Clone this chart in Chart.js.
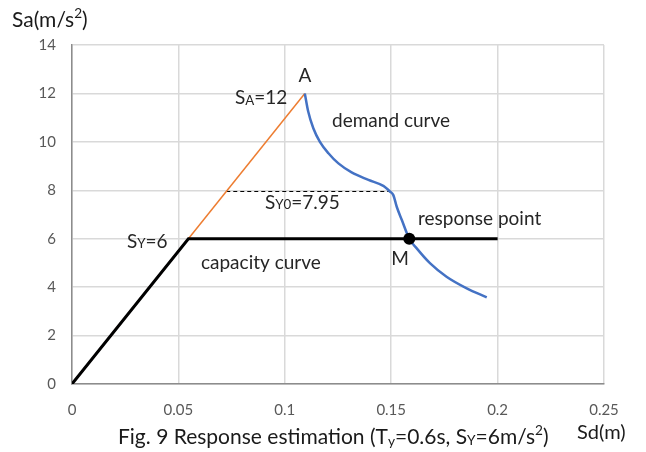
<!DOCTYPE html>
<html>
<head>
<meta charset="utf-8">
<script src="https://cdn.jsdelivr.net/npm/chart.js@4.4.1/dist/chart.umd.min.js"></script>
<style>
    html, body { margin: 0; padding: 0; background: #fff; }
    #wrap { width: 646px; height: 452px; position: relative; }
</style>
</head>
<body>
<div id="wrap"><canvas id="spectrumChart"></canvas></div>
<script>
// Axis ticks
const xTicks = [0, 0.05, 0.1, 0.15, 0.2, 0.25];
const yTicks = [0, 2, 4, 6, 8, 10, 12, 14];

// Capacity curve (bilinear)
const capacitySd = [0, 0.0547, 0.2];
const capacitySa = [0, 6, 6];

// Elastic line up to point A
const elasticSd = [0, 0.1094];
const elasticSa = [0, 12];

// Demand curve
const demandSd = [0.1094, 0.111, 0.1134, 0.1165, 0.1205, 0.1252, 0.1314, 0.1393, 0.1463, 0.1494, 0.151, 0.1526, 0.155, 0.1585, 0.162, 0.1682, 0.176, 0.1855, 0.1949];
const demandSa = [12, 11.25, 10.56, 10.0, 9.53, 9.11, 8.74, 8.43, 8.18, 7.95, 7.8, 7.32, 6.77, 6.0, 5.6, 4.99, 4.43, 3.95, 3.58];

// Yield level Sy0 (dashed)
const yieldSd = [0.0725, 0.1494];
const yieldSa = [7.95, 7.95];

// Response point M
const responseSd = [0.1585];
const responseSa = [6];

const toPoints = (xs, ys) => xs.map((x, i) => ({ x: x, y: ys[i] }));

const FONT = 'Lato, "Open Sans", sans-serif';

// text pieces: [text, sizeScale, baselineShift]
function drawRich(ctx, parts, x, y, size, color, align) {
    ctx.save();
    ctx.fillStyle = color;
    ctx.textBaseline = 'middle';
    ctx.textAlign = 'left';
    let total = 0;
    parts.forEach(p => {
        ctx.font = `${size * p[1]}px ${FONT}`;
        total += ctx.measureText(p[0]).width;
    });
    let cx = align === 'center' ? x - total / 2 : x;
    parts.forEach(p => {
        ctx.font = `${size * p[1]}px ${FONT}`;
        ctx.fillText(p[0], cx, y + p[2] * size);
        cx += ctx.measureText(p[0]).width;
    });
    ctx.restore();
}

// Labels placed in data coordinates
const notes = [
    { x: 0.1095, y: 12.72, parts: [['A', 1, 0]], align: 'center' },
    { x: 0.0766, y: 11.81, parts: [['S', 1, 0], ['A', 0.7, 0.12], ['=12', 1, 0]] },
    { x: 0.1222, y: 10.86, parts: [['demand curve', 1, 0]] },
    { x: 0.0907, y: 7.48, parts: [['S', 1, 0], ['Y0', 0.7, 0.12], ['=7.95', 1, 0]] },
    { x: 0.1626, y: 6.82, parts: [['response point', 1, 0]] },
    { x: 0.0258, y: 5.87, parts: [['S', 1, 0], ['Y', 0.7, 0.12], ['=6', 1, 0]] },
    { x: 0.0606, y: 5.0, parts: [['capacity curve', 1, 0]] },
    { x: 0.15, y: 5.16, parts: [['M', 1, 0]] }
];

const labelPlugin = {
    id: 'labels',
    afterDraw(chart) {
        const ctx = chart.ctx;
        const xs = chart.scales.x, ys = chart.scales.y;
        notes.forEach(n => {
            drawRich(ctx, n.parts, xs.getPixelForValue(n.x), ys.getPixelForValue(n.y), 19, '#262626', n.align);
        });
        // axis titles and caption
        drawRich(ctx, [['Sa(m/s', 1, 0], ['2', 0.65, -0.3], [')', 1, 0]], 12, 20, 21, '#1a1a1a');
        drawRich(ctx, [['Sd(m)', 1, 0]], 577, 433, 20, '#1a1a1a');
        drawRich(ctx, [['Fig. 9 Response estimation (T', 1, 0], ['y', 0.65, 0.2], ['=0.6s, S', 1, 0], ['Y', 0.65, 0.15], ['=6m/s', 1, 0], ['2', 0.65, -0.3], [')', 1, 0]], 118, 437, 21, '#1a1a1a');
    }
};

const ctx = document.getElementById('spectrumChart');
new Chart(ctx, {
    type: 'scatter',
    data: {
        datasets: [
            {
                label: 'M',
                data: toPoints(responseSd, responseSa),
                pointRadius: 6,
                pointBackgroundColor: '#000',
                pointBorderWidth: 0,
                showLine: false,
                order: 0
            },
            {
                label: 'capacity',
                data: toPoints(capacitySd, capacitySa),
                showLine: true,
                borderColor: '#000',
                borderWidth: 3,
                pointRadius: 0,
                order: 1
            },
            {
                label: 'demand',
                data: toPoints(demandSd, demandSa),
                showLine: true,
                borderColor: '#4472C4',
                borderWidth: 2.5,
                pointRadius: 0,
                cubicInterpolationMode: 'monotone',
                order: 2
            },
            {
                label: 'elastic',
                data: toPoints(elasticSd, elasticSa),
                showLine: true,
                borderColor: '#ED7D31',
                borderWidth: 1.5,
                pointRadius: 0,
                order: 3
            },
            {
                label: 'Sy0',
                data: toPoints(yieldSd, yieldSa),
                showLine: true,
                borderColor: '#000',
                borderWidth: 1,
                borderDash: [4, 3],
                pointRadius: 0,
                order: 4
            }
        ]
    },
    options: {
        responsive: true,
        maintainAspectRatio: false,
        animation: false,
        layout: {
            padding: { top: 45, right: 42, left: 0, bottom: 0 }
        },
        plugins: {
            legend: { display: false },
            tooltip: { enabled: false }
        },
        scales: {
            x: {
                type: 'linear',
                min: xTicks[0],
                max: xTicks[xTicks.length - 1],
                afterBuildTicks: scale => { scale.ticks = xTicks.map(v => ({ value: v })); },
                afterFit: scale => { scale.height = 68; },
                grid: { color: '#d9d9d9', lineWidth: 1.5, drawTicks: false },
                border: { color: '#8c8c8c', width: 1.5 },
                ticks: {
                    padding: 17,
                    color: '#595959',
                    font: { family: FONT, size: 15 },
                    callback: v => String(+v.toFixed(2))
                }
            },
            y: {
                min: yTicks[0],
                max: yTicks[yTicks.length - 1],
                afterBuildTicks: scale => { scale.ticks = yTicks.map(v => ({ value: v })); },
                afterFit: scale => { scale.width = 72; },
                grid: { color: '#d9d9d9', lineWidth: 1.5, drawTicks: false },
                border: { color: '#8c8c8c', width: 1.5 },
                ticks: {
                    padding: 16,
                    color: '#595959',
                    font: { family: FONT, size: 15 }
                }
            }
        }
    },
    plugins: [labelPlugin]
});
</script>
</body>
</html>
